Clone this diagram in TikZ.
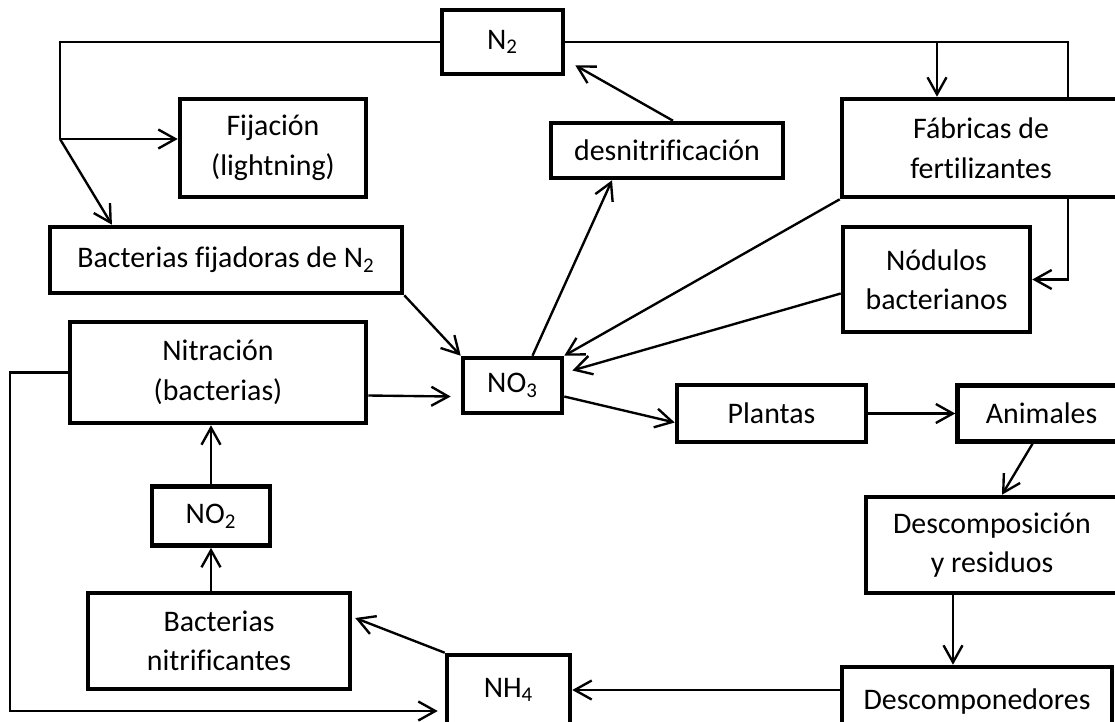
\documentclass[tikz,border=0pt]{standalone}
\usepackage{fontspec}
\setmainfont{Carlito}[Ligatures=NoCommon]
\usepackage{tikz}
\usetikzlibrary{arrows.meta, positioning, calc}

\tikzset{
  caja/.style={draw, line width=2.6pt, fill=white, align=center, inner sep=0pt, font=\fontsize{17}{22.5}\selectfont},
  flecha/.style={line width=1.35pt, -{Straight Barb[length=0.34cm,width=0.38cm]}},
  linea/.style={line width=0.9pt}
}

\begin{document}
\begin{tikzpicture}[x=0.02cm, y=-0.02cm]
\useasboundingbox (0,0) rectangle (1115,721);
\clip (0,0) rectangle (1115,721);
\path[fill=white] (0,0) rectangle (1115,721);

\node[caja, minimum width=2.42cm, minimum height=1.28cm] (N2) at (502.5,42) {N\textsubscript{2}};
\node[caja, minimum width=3.72cm, minimum height=1.96cm] (Fijacion) at (273,148) {Fijación\\(lightning)};
\node[caja, minimum width=7.04cm, minimum height=1.32cm] (BactFij) at (226,260) {Bacterias fijadoras de N\textsubscript{2}};
\node[caja, minimum width=4.64cm, minimum height=1.1cm] (desnit) at (667,150.5) {desnitrificación};
\node[caja, minimum width=5.56cm, minimum height=1.96cm] (Fabricas) at (981,148) {Fábricas de\\fertilizantes};
\node[caja, minimum width=3.74cm, minimum height=2.1cm] (Nodulos) at (936.5,279.5) {Nódulos\\bacterianos};
\node[caja, minimum width=5.92cm, minimum height=2.02cm] (Nitracion) at (218,372.5) {Nitración\\(bacterias)};
\node[caja, minimum width=1.98cm, minimum height=1.1cm] (NO3) at (512.5,385.5) {NO\textsubscript{3}};
\node[caja, minimum width=3.78cm, minimum height=1.14cm] (Plantas) at (771.5,413.5) {Plantas};
\node[caja, minimum width=3.36cm, minimum height=1.12cm, right=1.74cm of Plantas] (Animales) {Animales};
\node[caja, minimum width=5.04cm, minimum height=1.92cm] (Descomp) at (992,545) {Descomposición\\y residuos};
\node[caja, minimum width=2.36cm, minimum height=1.18cm, below=1.18cm of Nitracion, xshift=-0.14cm] (NO2) {NO\textsubscript{2}};
\node[caja, minimum width=5.24cm, minimum height=1.92cm] (BactNit) at (219,641) {Bacterias\\nitrificantes};
\node[caja, minimum width=2.46cm, minimum height=1.4cm] (NH4) at (508.5,690) {NH\textsubscript{4}};
\node[caja, minimum width=5.4cm, minimum height=1.4cm] (Descomponedores) at (977,702) {Descomponedores};

% N2 hacia la izquierda
\coordinate (nudo) at (60,139);
\draw[linea] (N2.west) -| (nudo);
\draw[flecha] (nudo) -- (nudo -| Fijacion.west);
\draw[flecha] (nudo) -- ($(BactFij.north west)!0.18!(BactFij.north east)$);

% N2 hacia la derecha
\coordinate (esq) at (1068,42);
\coordinate (baja) at (937,42);
\draw[linea] (N2.east) -- (esq) -- (esq |- Fabricas.north);
\draw[flecha] (baja) -- (baja |- Fabricas.north);
\draw[flecha] (esq |- Fabricas.south) |- (Nodulos.east);

\draw[flecha] ($(desnit.north)+(6,0)$) -- ($(N2.south east)+(10,-11)$);
\draw[flecha] ($(NO3.north)+(20,0)$) -- ($(desnit.south)+(-55,0)$);
\draw[flecha] (BactFij.south east) -- (NO3.north west);
\draw[flecha] (Fabricas.south west) -- (NO3.north east);
\draw[flecha] ($(Nodulos.west)+(0,14)$) -- ($(NO3.east)+(8,-15)$);
\draw[flecha] ($(Nitracion.east)+(0,23)$) -- ($(NO3.west)+(-10,11)$);
\draw[flecha] ($(NO3.east)+(0,11)$) -- ($(Plantas.west)+(0,9)$);
\draw[flecha] (Plantas.east) -- (Animales.west);
\draw[flecha] ($(Animales.south)+(-9,0)$) -- ($(Descomp.north)+(10,0)$);
\coordinate (dc) at ($(Descomp.south)+(-39,0)$);
\draw[flecha] (dc) -- (dc |- Descomponedores.north);
\draw[flecha] (Descomponedores.west |- NH4.east) -- (NH4.east);
\draw[flecha] (NH4.north west) -- ($(BactNit.east)+(3,-23)$);
\draw[flecha] (NO2.south |- BactNit.north) -- (NO2.south);
\draw[flecha] (NO2.north) -- (NO2.north |- Nitracion.south);

% vuelta por la izquierda
\coordinate (abajo) at (10,711);
\draw[flecha, shorten >=0.14cm] (Nitracion.west) -| (abajo) -- (abajo -| NH4.west);
\end{tikzpicture}
\end{document}
